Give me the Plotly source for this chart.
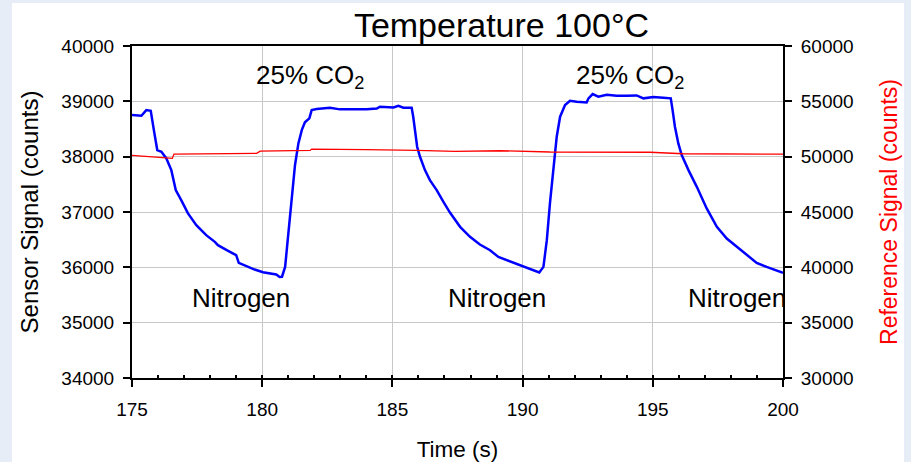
import plotly.graph_objects as go

# Sensor response (left axis), time in seconds
time_s = [175.00, 175.36, 175.55, 175.72, 175.84, 175.97, 176.13, 176.32, 176.51, 176.60,
          176.68, 176.89, 177.15, 177.47, 177.85, 178.18, 178.30, 178.69, 179.00, 179.10,
          179.39, 179.71, 180.03, 180.35, 180.54, 180.67, 180.76, 180.88, 181.00, 181.13,
          181.26, 181.39, 181.52, 181.64, 181.81, 181.90, 182.09, 182.60, 182.99, 183.50,
          184.01, 184.40, 184.52, 185.04, 185.23, 185.42, 185.74, 185.80, 185.87, 185.95,
          186.06, 186.25, 186.44, 186.70, 186.96, 187.21, 187.60, 187.98, 188.36, 188.75,
          189.07, 189.39, 189.77, 190.16, 190.48, 190.64, 190.80, 190.93, 191.05, 191.18,
          191.31, 191.44, 191.63, 191.82, 192.08, 192.46, 192.53, 192.69, 192.91, 193.23,
          193.61, 194.00, 194.38, 194.64, 195.02, 195.40, 195.69, 195.76, 195.85, 195.98,
          196.11, 196.37, 196.69, 197.07, 197.46, 197.84, 198.22, 198.61, 198.99, 199.37,
          199.76, 200.00]
sensor_counts = [38752, 38740, 38842, 38830, 38480, 38119, 38088, 37968, 37757, 37576,
                 37395, 37214, 36974, 36762, 36581, 36460, 36400, 36297, 36219, 36080,
                 36020, 35960, 35912, 35888, 35870, 35826, 35830, 36008, 36560, 37180,
                 37850, 38240, 38480, 38620, 38692, 38842, 38860, 38884, 38855, 38855,
                 38855, 38870, 38902, 38890, 38920, 38884, 38884, 38722, 38420, 38179,
                 37998, 37757, 37576, 37395, 37184, 36990, 36732, 36551, 36413, 36310,
                 36189, 36129, 36069, 35997, 35935, 35906, 36008, 36491, 37154, 37817,
                 38360, 38722, 38933, 39011, 38993, 38981, 39054, 39132, 39083, 39119,
                 39101, 39101, 39107, 39054, 39077, 39066, 39054, 38842, 38540, 38240,
                 38028, 37757, 37455, 37064, 36732, 36521, 36370, 36219, 36080, 36008,
                 35948, 35900]

# Reference channel (right axis)
ref_time_s = [175.00, 176.20, 176.55, 176.61, 177.50, 178.50, 179.79, 179.92, 181.00, 181.84,
              181.90, 182.70, 184.00, 185.93, 187.40, 189.13, 191.05, 194.89, 196.17, 200.00]
ref_counts = [50115, 49898, 49843, 50232, 50260, 50280, 50296, 50504, 50530, 50566,
              50685, 50685, 50640, 50566, 50480, 50534, 50420, 50400, 50262, 50232]

# Gas phase labels
gas_labels = ["25% CO<sub>2</sub>", "25% CO<sub>2</sub>", "Nitrogen", "Nitrogen", "Nitrogen"]
gas_label_t = [181.84, 194.12, 179.17, 189.00, 198.23]
gas_label_v = [39440, 39440, 35450, 35450, 35450]

FONT = "Liberation Sans, Arial, sans-serif"
X_RANGE = [175, 200]

fig = go.Figure()
fig.add_trace(go.Scatter(x=time_s, y=sensor_counts, mode="lines",
                         line=dict(color="#0000ff", width=2.5), xaxis="x", yaxis="y",
                         name="Sensor"))
# reference trace sits on an overlaid time axis that carries the 1 s inner ticks
fig.add_trace(go.Scatter(x=ref_time_s, y=ref_counts, mode="lines",
                         line=dict(color="#ff0000", width=1.3), xaxis="x2", yaxis="y2",
                         name="Reference"))

for txt, t, v in zip(gas_labels, gas_label_t, gas_label_v):
    fig.add_annotation(x=t, y=v, xref="x", yref="y", text=txt, showarrow=False,
                       font=dict(family=FONT, size=26, color="black"),
                       xanchor="center", yanchor="middle")

# white slide panel behind the chart
L, R, T, B = 132, 128, 46, 84
W, H = 911, 462
pw, ph = W - L - R, H - T - B
fig.add_shape(type="rect", xref="paper", yref="paper",
              x0=(12 - L) / pw, x1=(904 - L) / pw,
              y0=(H - B - 462) / ph, y1=(H - B - 3) / ph,
              fillcolor="white", line=dict(width=0), layer="below")

axis_common = dict(showline=True, linecolor="black", linewidth=2,
                   ticks="outside", tickcolor="black", tickwidth=1.5, ticklen=7,
                   tickfont=dict(family=FONT, size=19, color="black"),
                   tickformat="d", zeroline=False, automargin=False)

fig.update_layout(
    width=W, height=H,
    margin=dict(l=L, r=R, t=T, b=B),
    paper_bgcolor="#e6edf6",
    plot_bgcolor="white",
    showlegend=False,
    font=dict(family=FONT, color="black"),
    title=dict(text="Temperature 100°C", font=dict(family=FONT, size=34, color="black"),
               xref="paper", x=(501.5 - L) / pw, xanchor="center",
               yref="container", y=1 - 25 / H, yanchor="middle"),
    xaxis=dict(range=X_RANGE, dtick=5, tick0=175, mirror=True,
               showgrid=True, gridcolor="#c8c8c8", gridwidth=1,
               ticklabelstandoff=6,
               title=dict(text="Time (s)", font=dict(family=FONT, size=22.5), standoff=24),
               **{**axis_common, "tickwidth": 2}),
    xaxis2=dict(range=X_RANGE, overlaying="x", side="bottom", anchor="y2",
                dtick=1, tick0=175, ticks="inside", ticklen=3, tickwidth=1.5,
                tickcolor="black", showticklabels=False, showgrid=False,
                showline=False, zeroline=False, automargin=False),
    yaxis=dict(range=[34000, 40000], dtick=1000, showgrid=True, gridcolor="#c8c8c8",
               gridwidth=1, ticklabelstandoff=5,
               title=dict(text="Sensor Signal (counts)", font=dict(family=FONT, size=24),
                          standoff=16),
               **axis_common),
    yaxis2=dict(range=[30000, 60000], dtick=5000, overlaying="y", side="right",
                anchor="x2", showgrid=False, ticklabelstandoff=5,
                title=dict(text="Reference Signal (counts)",
                           font=dict(family=FONT, size=23, color="#ff0000"), standoff=28),
                **axis_common),
)

fig.write_html("out.html")
